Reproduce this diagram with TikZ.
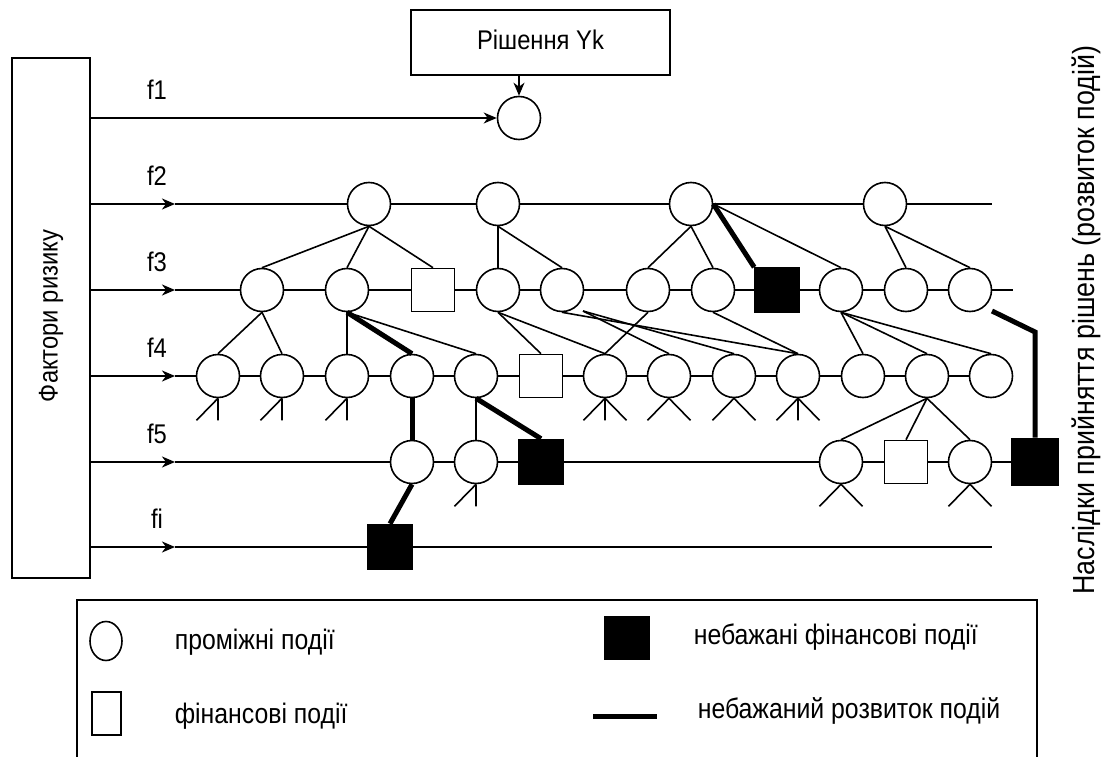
\documentclass[tikz,border=0pt]{standalone}
\usepackage{fontspec}
\setmainfont{Liberation Sans}[FakeStretch=0.88]
\usetikzlibrary{arrows.meta,shapes.geometric}
\begin{document}
\begin{tikzpicture}[x=1pt,y=-1pt,line width=1.6pt,
  ev/.style={circle,draw,fill=white,minimum size=43pt,inner sep=0pt},
  fin/.style={rectangle,draw,fill=white,minimum size=43pt,inner sep=0pt},
  bad/.style={rectangle,draw,fill=black,minimum size=45pt,inner sep=0pt},
  thk/.style={line width=5pt},
  lbl/.style={font=\fontsize{27}{32}\selectfont,inner sep=0pt},
  leg/.style={font=\fontsize{28.2}{34}\selectfont,inner sep=0pt},
  big/.style={font=\fontsize{30.5}{36}\selectfont,inner sep=0pt},
  arr/.style={-{Stealth[length=13pt,width=11pt,inset=4pt]}},
  foot/.style={line width=1.6pt}]
\useasboundingbox[fill=white] (0,0) rectangle (1109,757);

% frames
\node[draw,minimum width=78pt,minimum height=520pt,inner sep=0pt] (R) at (51,318) {};
\node[lbl,rotate=90] (Rt) at (51,316) {Фактори ризику};
\node[draw,minimum width=259pt,minimum height=65pt,inner sep=0pt] (Y) at (540.5,42.5) {};
\node[lbl] (Yt) at (540.5,40) {Рішення Yk};
\node[big,rotate=90] (cons) at (1086,320) {Наслідки прийняття рішень (розвиток подій)};

% labels
\node[lbl] (l1) at (157,90) {f1};
\node[lbl] (l2) at (157,176) {f2};
\node[lbl] (l3) at (157,262) {f3};
\node[lbl] (l4) at (157,348) {f4};
\node[lbl] (l5) at (157,434) {f5};
\node[lbl] (l6) at (157,519) {fi};

% row coordinates
\coordinate (s1) at (90,118);
\coordinate (s2) at (90,204);  \coordinate (t2) at (175,204); \coordinate (e2) at (992,204);
\coordinate (s3) at (90,290);  \coordinate (t3) at (175,290); \coordinate (e3) at (1013,290);
\coordinate (s4) at (90,376);  \coordinate (t4) at (175,376);
\coordinate (s5) at (90,462);  \coordinate (t5) at (175,462);
\coordinate (s6) at (90,547);  \coordinate (t6) at (175,547); \coordinate (e6) at (992,547);
\coordinate (P) at (583,311);
\coordinate (Q1) at (992,311);
\coordinate (Q2) at (1035,332);

% f1
\node[ev] (F1) at (519,118) {};
% f2
\node[ev] (A1) at (369,204) {};
\node[ev] (A2) at (498,204) {};
\node[ev] (A3) at (691,204) {};
\node[ev] (A4) at (885,204) {};
% f3
\node[ev] (B1) at (262,290) {};
\node[ev] (B2) at (347,290) {};
\node[fin] (B3) at (433,290) {};
\node[ev] (B4) at (498,290) {};
\node[ev] (B5) at (562,290) {};
\node[ev] (B6) at (648,290) {};
\node[ev] (B7) at (713,290) {};
\node[bad,minimum size=44pt] (B8) at (777,290) {};
\node[ev] (B9) at (841,290) {};
\node[ev] (B10) at (906,290) {};
\node[ev] (B11) at (970,290) {};
% f4
\node[ev] (C1) at (218,376) {};
\node[ev] (C2) at (282,376) {};
\node[ev] (C3) at (347,376) {};
\node[ev] (C4) at (412,376) {};
\node[ev] (C5) at (476,376) {};
\node[fin] (C6) at (541,376) {};
\node[ev] (C7) at (605,376) {};
\node[ev] (C8) at (669,376) {};
\node[ev] (C9) at (734,376) {};
\node[ev] (C10) at (798,376) {};
\node[ev] (C11) at (863,376) {};
\node[ev] (C12) at (927,376) {};
\node[ev] (C13) at (991,376) {};
% f5
\node[ev] (D1) at (412,462) {};
\node[ev] (D2) at (476,462) {};
\node[bad] (D3) at (541,462) {};
\node[ev] (D4) at (841,462) {};
\node[fin] (D5) at (906,462) {};
\node[ev] (D6) at (970,462) {};
\node[bad,minimum size=47pt] (D7) at (1035,462) {};
% fi
\node[bad] (E1) at (390,547) {};

% factor lines
\draw[arr] (s1) -- (F1);
\draw[arr] (F1 |- Y.south) -- (F1.north);
\foreach \i in {2,...,6} {\draw[arr] (s\i) -- (t\i);}
\draw (t2) -- (A1) -- (A2) -- (A3) -- (A4) -- (e2);
\draw (t3) -- (B1) -- (B2) -- (B3) -- (B4) -- (B5) -- (B6) -- (B7) -- (B8) -- (B9) -- (B10) -- (B11) -- (e3);
\draw (t4) -- (C1) -- (C2) -- (C3) -- (C4) -- (C5) -- (C6) -- (C7) -- (C8) -- (C9) -- (C10) -- (C11) -- (C12) -- (C13);
\draw (t5) -- (D1) -- (D2) -- (D3) -- (D4) -- (D5) -- (D6) -- (D7);
\draw (t6) -- (E1) -- (e6);

% tree edges
\draw (A1.south) -- (B1.north);
\draw (A1.south) -- (B2.north);
\draw (A1.south) -- (B3.north);
\draw (A2.south) -- (B4.north);
\draw (A2.south) -- (B5.north);
\draw (A3.south) -- (B6.north);
\draw (A3.south) -- (B7.north);
\draw[thk] (A3.east) -- (B8.north west);
\draw (A3.east) -- (B9.north);
\draw (A4.south) -- (B10.north);
\draw (A4.south) -- (B11.north);

\draw (B1.south) -- (C1.north);
\draw (B1.south) -- (C2.north);
\draw (B2.south) -- (C3.north);
\draw[thk] (B2.south) -- (C4.north);
\draw (B2.south) -- (C5.north);
\draw (B4.south) -- (C6.north);
\draw (B4.south) -- (C7.north);
\draw (B5.south) -- (C10.north);
\draw (P) -- (C8.north);
\draw (P) -- (C9.north);
\draw (B6.south) -- (C7.north);
\draw (B7.south) -- (C10.north);
\draw (B9.south) -- (C11.north);
\draw (B9.south) -- (C12.north);
\draw (B9.south) -- (C13.north);
\draw[thk] (Q1) -- (Q2) -- (D7.north);

\draw[thk] (C4.south) -- (D1.north);
\draw (C5.south) -- (D2.north);
\draw[thk] (C5.south) -- (D3.north);
\draw (C12.south) -- (D4.north);
\draw (C12.south) -- (D5.north);
\draw (C12.south) -- (D6.north);
\draw[thk] (D1.south) -- (E1.north);

% feet
\foreach \n in {C1,C2,C3,D2} {\draw[foot] (\n.south) -- ++(-21.5,22) (\n.south) -- ++(0,22);}
\foreach \n in {C7,C10} {\draw[foot] (\n.south) -- ++(-21.5,22) (\n.south) -- ++(0,22) (\n.south) -- ++(21.5,22);}
\foreach \n in {C8,C9,D4,D6} {\draw[foot] (\n.south) -- ++(-21.5,22) (\n.south) -- ++(21.5,22);}

% legend
\coordinate (g1) at (77,757); \coordinate (g2) at (77,600);
\coordinate (g3) at (1037,600); \coordinate (g4) at (1037,757);
\draw (g1) -- (g2) -- (g3) -- (g4);
\node[ellipse,draw,minimum width=32pt,minimum height=39pt,inner sep=0pt] (k1) at (106,641) {};
\node[rectangle,draw,minimum width=29pt,minimum height=43pt,inner sep=0pt] (k2) at (106.5,713.5) {};
\node[rectangle,draw,fill=black,minimum width=45pt,minimum height=43pt,inner sep=0pt] (k3) at (627,638) {};
\coordinate (k4a) at (593,716); \coordinate (k4b) at (657,716);
\draw[thk] (k4a) -- (k4b);
\node[leg,anchor=west] (k1t) at (174,642) {проміжні події};
\node[leg,anchor=west] (k2t) at (174,716) {фінансові події};
\node[leg,anchor=west] (k3t) at (693,637) {небажані фінансові події};
\node[leg,anchor=west] (k4t) at (697,711) {небажаний розвиток подій};
\end{tikzpicture}
\end{document}
